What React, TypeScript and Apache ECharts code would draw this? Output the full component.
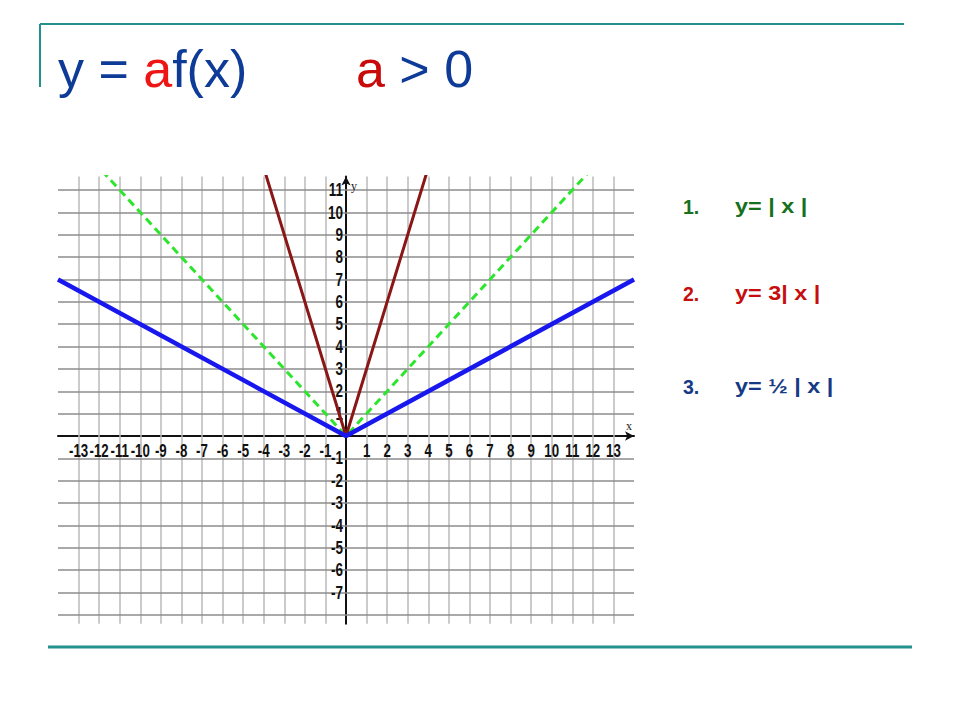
import React, { useEffect, useRef } from "react";
import * as echarts from "echarts";

// x values of the V-shaped graphs (kinks at the origin)
const lineX = [-14, 0, 14];
const greenY = [14, 0, 14]; // y = |x|
const redX = [-4, 0, 4];
const redY = [12, 0, 12]; // y = 3|x|
const blueY = [7, 0, 7]; // y = 1/2 |x|

// axis extents
const X_MIN = -14;
const X_MAX = 14;
const Y_MIN = -8.4;
const Y_MAX = 11.6;

// tick labels
const xTickLabels = [-13, -12, -11, -10, -9, -8, -7, -6, -5, -4, -3, -2, -1, 1, 2, 3, 4, 5, 6, 7, 8, 9, 10, 11, 12, 13];
const yTickLabels = [-7, -6, -5, -4, -3, -2, -1, 1, 2, 3, 4, 5, 6, 7, 8, 9, 10, 11];

// grid lines
const xGridLines = [-13, -12, -11, -10, -9, -8, -7, -6, -5, -4, -3, -2, -1, 1, 2, 3, 4, 5, 6, 7, 8, 9, 10, 11, 12, 13];
const yGridLines = [-8, -7, -6, -5, -4, -3, -2, -1, 1, 2, 3, 4, 5, 6, 7, 8, 9, 10, 11];

// legend texts
const legendNums = ["1.", "2.", "3."];
const legendTexts = ["y= | x |", "y= 3| x |", "y= ½ | x |"];
const legendColors = ["#17701c", "#c50f0f", "#173a86"];

const SANS = "'Liberation Sans', Arial, sans-serif";
const SERIF = "'Liberation Serif', 'Times New Roman', serif";
const TEAL = "#24918f";
const BLUE_T = "#0d3b97";

export default function App() {
  const ref = useRef<HTMLDivElement>(null);
  useEffect(() => {
    const chart = echarts.init(ref.current as HTMLDivElement, null, { renderer: "svg" });
    const legendMid = [207, 293.5, 387];
    const axisLine = {
      onZero: true,
      lineStyle: { color: "#111", width: 2 },
      symbol: ["none", "arrow"],
      symbolSize: [7, 9],
    };
    const option: any = {
      animation: false,
      backgroundColor: "#ffffff",
      grid: { left: 58, right: 326, top: 176.6, bottom: 96.2, outerBoundsMode: "none" },
      xAxis: {
        type: "value",
        min: X_MIN,
        max: X_MAX,
        splitLine: { show: false },
        axisTick: { show: false },
        axisLabel: { show: false },
        axisLine,
      },
      yAxis: {
        type: "value",
        min: Y_MIN,
        max: Y_MAX,
        splitLine: { show: false },
        axisTick: { show: false },
        axisLabel: { show: false },
        axisLine,
      },
      series: [
        {
          type: "lines",
          coordinateSystem: "cartesian2d",
          silent: true,
          z: 1,
          lineStyle: { color: "#bababa", width: 1.5, opacity: 1 },
          data: xGridLines.map((v) => ({ coords: [[v, Y_MIN], [v, Y_MAX]] })),
        },
        {
          type: "lines",
          coordinateSystem: "cartesian2d",
          silent: true,
          z: 1,
          lineStyle: { color: "#8c8c8c", width: 1.5, opacity: 1 },
          data: yGridLines.map((v) => ({ coords: [[X_MIN, v], [X_MAX, v]] })),
        },
        {
          type: "line",
          name: "y= | x |",
          data: lineX.map((x, i) => [x, greenY[i]]),
          showSymbol: false,
          clip: true,
          z: 3,
          lineStyle: { color: "#2ee52e", width: 3, type: [8, 5] },
        },
        {
          type: "line",
          name: "y= 3| x |",
          data: redX.map((x, i) => [x, redY[i]]),
          showSymbol: false,
          clip: true,
          z: 3,
          lineStyle: { color: "#8a1616", width: 3 },
        },
        {
          type: "line",
          name: "y= ½ | x |",
          data: lineX.map((x, i) => [x, blueY[i]]),
          showSymbol: false,
          clip: true,
          z: 4,
          lineStyle: { color: "#1717ee", width: 4.5 },
        },
      ],
    };
    chart.setOption(option);

    const toPx = (x: number, y: number) => chart.convertToPixel({ gridIndex: 0 }, [x, y]) as number[];
    const labelStyle = { fontFamily: SANS, fontWeight: "bold", fontSize: 17.5, fill: "#111" };

    const xLabels = xTickLabels.map((v) => {
      const [px, py] = toPx(v, 0);
      return {
        type: "text",
        x: px,
        y: py + 6,
        scaleX: 0.76,
        z: 2,
        style: { ...labelStyle, text: String(v), align: "center", verticalAlign: "top" },
      };
    });
    const yLabels = yTickLabels.map((v) => {
      const [px, py] = toPx(0, v);
      return {
        type: "text",
        x: px - 3,
        y: py,
        scaleX: 0.77,
        z: 2,
        style: { ...labelStyle, text: String(v), align: "right", verticalAlign: "middle" },
      };
    });
    const [xEndX, xEndY] = toPx(X_MAX, 0);
    const [yEndX, yEndY] = toPx(0, Y_MAX);
    const axisNames = [
      {
        type: "text",
        x: xEndX - 5,
        y: xEndY - 10,
        z: 2,
        style: { text: "x", fontFamily: SERIF, fontSize: 12, fill: "#222", align: "center", verticalAlign: "middle" },
      },
      {
        type: "text",
        x: yEndX + 8,
        y: yEndY + 9,
        z: 2,
        style: { text: "y", fontFamily: SERIF, fontSize: 12, fill: "#222", align: "center", verticalAlign: "middle" },
      },
    ];

    const graphic: any[] = [
      { type: "line", shape: { x1: 40, y1: 24, x2: 904, y2: 24 }, style: { stroke: TEAL, lineWidth: 2 } },
      { type: "line", shape: { x1: 40, y1: 24, x2: 40, y2: 87 }, style: { stroke: TEAL, lineWidth: 2 } },
      { type: "line", shape: { x1: 48, y1: 647, x2: 912, y2: 647 }, style: { stroke: TEAL, lineWidth: 3 } },
      {
        type: "text",
        x: 58,
        y: 68.5,
        style: {
          text: "{b|y = }{r|a}{b|f(x)}",
          verticalAlign: "middle",
          rich: {
            b: { fontFamily: SANS, fontSize: 52, fill: BLUE_T },
            r: { fontFamily: SANS, fontSize: 52, fill: "#ee1515" },
          },
        },
      },
      {
        type: "text",
        x: 356,
        y: 68.5,
        style: {
          text: "{r|a}{b| > 0}",
          verticalAlign: "middle",
          rich: {
            b: { fontFamily: SANS, fontSize: 52, fill: BLUE_T },
            r: { fontFamily: SANS, fontSize: 52, fill: "#c80a0a" },
          },
        },
      },
      ...legendNums.map((n, i) => ({
        type: "text",
        x: 683,
        y: legendMid[i],
        style: { text: n, fontFamily: SANS, fontWeight: "bold", fontSize: 19.5, fill: legendColors[i], verticalAlign: "middle" },
      })),
      ...legendTexts.map((t, i) => ({
        type: "text",
        x: 735,
        y: legendMid[i],
        scaleX: 1.2,
        style: { text: t, fontFamily: SANS, fontWeight: "bold", fontSize: 19.5, fill: legendColors[i], verticalAlign: "middle" },
      })),
      ...xLabels,
      ...yLabels,
      ...axisNames,
    ];
    chart.setOption({ graphic });
    return () => chart.dispose();
  }, []);
  return (
    <div
      ref={ref}
      style={{ position: "fixed", left: 0, top: 0, width: 960, height: 720, background: "#fff" }}
    />
  );
}
